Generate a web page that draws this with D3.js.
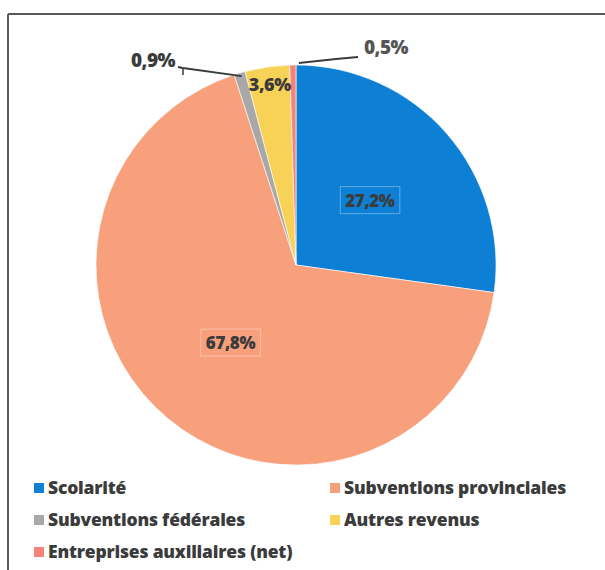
<!DOCTYPE html>
<html><head><meta charset="utf-8">
<script src="https://cdn.jsdelivr.net/npm/d3@7"></script>
<style>body{margin:0;background:#fff;}svg{display:block;}</style>
</head><body>
<svg id="c" width="605" height="570"></svg>
<script>
const categories = ["Scolarité","Subventions provinciales","Subventions fédérales","Autres revenus","Entreprises auxiliaires (net)"];
const values = [27.2, 67.8, 0.9, 3.6, 0.5];
const labels = ["27,2%","67,8%","0,9%","3,6%","0,5%"];
const colors = ["#0d7fd5","#f89f7c","#a8a8a8","#f7d257","#f4837a"];

const svg = d3.select("#c");
const W = 605, H = 570;
const cx = 296, cy = 265, R = 200;
const FONT = "'Open Sans', 'Liberation Sans', sans-serif";
const TXT = "#3b3b3b";

// frame
svg.append("line").attr("x1",8).attr("y1",14).attr("x2",W).attr("y2",14).attr("stroke","#5a5a5a").attr("stroke-width",2);
svg.append("line").attr("x1",8).attr("y1",14).attr("x2",8).attr("y2",H).attr("stroke","#5a5a5a").attr("stroke-width",2);

const data = categories.map((c,i)=>({cat:c,value:values[i],label:labels[i],color:colors[i]}));
const pie = d3.pie().value(d=>d.value).sort(null);
const arcs = pie(data);
const arc = d3.arc().innerRadius(0).outerRadius(R);
const g = svg.append("g").attr("transform",`translate(${cx},${cy})`);
g.selectAll("path").data(arcs).join("path")
  .attr("d",arc).attr("fill",d=>d.data.color)
  .attr("stroke","#fff").attr("stroke-width",0.6);

const mid = d=>(d.startAngle+d.endAngle)/2;
const pt = (a,r)=>[r*Math.sin(a), -r*Math.cos(a)];

// inside labels
const inside = {0:0.49,1:0.51,3:0.91};
arcs.forEach((d,i)=>{
  if(!(i in inside)) return;
  const [x,y] = pt(mid(d), R*inside[i]);
  const t = g.append("text").attr("x",x).attr("y",y).attr("dy","0.35em")
    .attr("text-anchor","middle").attr("font-family",FONT).attr("font-weight",800)
    .attr("font-size",i===3?18:17).attr("letter-spacing",-0.4).attr("fill",TXT).text(d.data.label);
  if(i!==3){
    const b = t.node().getBBox();
    g.insert("rect","text").attr("x",b.x-5).attr("y",b.y-2).attr("width",b.width+10).attr("height",b.height+4)
      .attr("fill","none").attr("stroke","rgba(255,255,255,0.35)").attr("stroke-width",1);
  }
});

// outside labels with leader lines
const outside = {2:{lx:-143,ly:-205,path:(p)=>[[p[0]+2,p[1]+3],[-113,-197],[-118,-198]]},
                 4:{lx:90,ly:-218,path:(p)=>[[p[0]+6,p[1]-2],[40,-206],[62,-208]]}};
arcs.forEach((d,i)=>{
  if(!(i in outside)) return;
  const o = outside[i];
  const p = pt(mid(d), R);
  g.append("path").attr("d",d3.line()(o.path(p))).attr("fill","none").attr("stroke","#3b3b3b").attr("stroke-width",2);
  g.append("text").attr("x",o.lx).attr("y",o.ly).attr("dy","0.35em").attr("text-anchor","middle")
    .attr("font-family",FONT).attr("font-weight",800).attr("font-size",19).attr("letter-spacing",-0.5)
    .attr("fill",i===4?"#555":TXT).text(d.data.label);
});
g.append("line").attr("x1",-113).attr("y1",-197).attr("x2",-113).attr("y2",-190).attr("stroke","#3b3b3b").attr("stroke-width",1.5);

// legend
const legX = [34, 330], legY = [488, 520, 552];
const leg = svg.append("g");
data.forEach((d,i)=>{
  const col = i%2, row = Math.floor(i/2);
  const x = legX[col], y = legY[row];
  leg.append("rect").attr("x",x).attr("y",y-5).attr("width",10).attr("height",10).attr("fill",d.color);
  leg.append("text").attr("x",x+14).attr("y",y).attr("dy","0.35em")
    .attr("font-family",FONT).attr("font-weight",800).attr("font-size",17.5).attr("letter-spacing",-0.2)
    .attr("fill",TXT).text(d.cat);
});
</script>
</body></html>
